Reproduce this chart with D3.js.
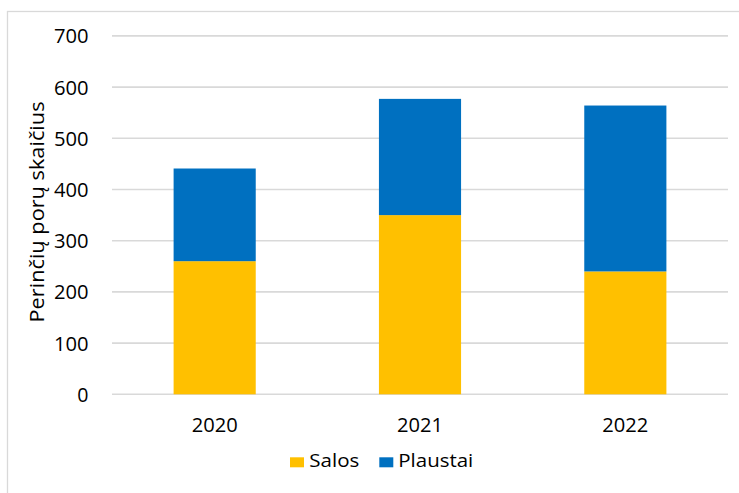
<!DOCTYPE html>
<html>
<head>
<meta charset="utf-8">
<script src="https://cdn.jsdelivr.net/npm/d3@7"></script>
<style>
  html, body { margin: 0; padding: 0; background: #fff; }
  svg { display: block; }
  text { font-family: "Open Sans", "Noto Sans", sans-serif; fill: #000; }
</style>
</head>
<body>
<svg id="chart" width="739" height="493"></svg>
<script>
const categories = ["2020", "2021", "2022"];
const seriesNames = ["Salos", "Plaustai"];
const salos = [260, 350, 240];
const plaustai = [181, 227, 324];
const yTicks = [0, 100, 200, 300, 400, 500, 600, 700];
const colors = ["#FFC000", "#0070C0"];
const yTitle = "Perinčių porų skaičius";

const svg = d3.select("#chart");
const W = 739, H = 493;
const plot = { left: 112, right: 728, top: 35.9, bottom: 394.3 };

// chart area border
svg.append("rect")
  .attr("x", 7.5).attr("y", 11.5)
  .attr("width", W + 20).attr("height", H + 20)
  .attr("fill", "#fff").attr("stroke", "#d9d9d9").attr("stroke-width", 1.3);

const x = d3.scaleBand().domain(categories)
  .range([plot.left, plot.right]).paddingInner(0.6).paddingOuter(0.3);
const y = d3.scaleLinear().domain([0, 700]).range([plot.bottom, plot.top]);

// gridlines
svg.append("g").selectAll("line").data(yTicks).join("line")
  .attr("x1", plot.left).attr("x2", plot.right)
  .attr("y1", d => y(d)).attr("y2", d => y(d))
  .attr("stroke", "#d9d9d9").attr("stroke-width", 1.6);

// stacked bars
const rows = categories.map((c, i) => ({ cat: c, Salos: salos[i], Plaustai: plaustai[i] }));
const stacked = d3.stack().keys(seriesNames)(rows);
svg.append("g").selectAll("g").data(stacked).join("g")
  .attr("fill", (d, i) => colors[i])
  .selectAll("rect").data(d => d).join("rect")
  .attr("x", d => x(d.data.cat))
  .attr("width", x.bandwidth())
  .attr("y", d => y(d[1]))
  .attr("height", d => y(d[0]) - y(d[1]));

// y axis (labels only)
const yAxis = svg.append("g").attr("transform", `translate(88.5,0)`)
  .call(d3.axisLeft(y).tickValues(yTicks).tickSize(0).tickPadding(0).tickFormat(d3.format("d")));
yAxis.select(".domain").remove();
yAxis.selectAll("text")
  .attr("font-size", 19.5).attr("font-family", "'Open Sans', sans-serif")
  .attr("fill", "#000").attr("dy", "0.36em").attr("x", 0)
  .attr("textLength", d => String(d).length * 11.7 - 0.5)
  .attr("lengthAdjust", "spacingAndGlyphs");

// x axis labels
const xAxis = svg.append("g").attr("transform", `translate(0,${plot.bottom})`)
  .call(d3.axisBottom(x).tickSize(0).tickPadding(0));
xAxis.select(".domain").remove();
xAxis.selectAll("text")
  .attr("font-size", 20).attr("font-family", "'Open Sans', sans-serif")
  .attr("fill", "#000").attr("y", 37.7).attr("dy", 0)
  .attr("textLength", 46).attr("lengthAdjust", "spacingAndGlyphs");

// y title
svg.append("text")
  .attr("transform", "translate(44,212) rotate(-90)")
  .attr("text-anchor", "middle")
  .attr("font-size", 19.5)
  .attr("textLength", 221).attr("lengthAdjust", "spacingAndGlyphs")
  .text(yTitle);

// legend
const legendItems = [
  { name: seriesNames[0], color: colors[0], sx: 290, tx: 309.3, tw: 50 },
  { name: seriesNames[1], color: colors[1], sx: 379.3, tx: 398.3, tw: 75 }
];
const lg = svg.append("g");
lg.selectAll("rect").data(legendItems).join("rect")
  .attr("x", d => d.sx).attr("y", 457.3).attr("width", 14).attr("height", 10)
  .attr("fill", d => d.color);
lg.selectAll("text").data(legendItems).join("text")
  .attr("x", d => d.tx).attr("y", 466.7)
  .attr("font-size", 18.5)
  .attr("textLength", d => d.tw).attr("lengthAdjust", "spacingAndGlyphs")
  .text(d => d.name);
</script>
</body>
</html>
